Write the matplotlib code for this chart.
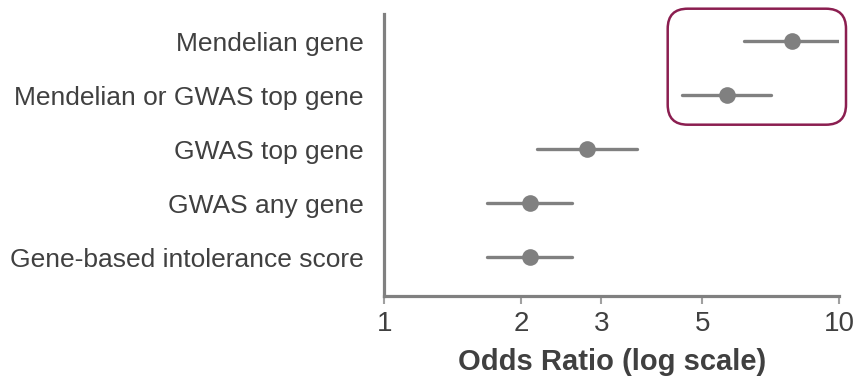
import matplotlib
matplotlib.use("Agg")
import matplotlib.pyplot as plt
from matplotlib.patches import FancyBboxPatch
from matplotlib.ticker import FixedLocator, NullLocator

# Data
labels = ["Mendelian gene", "Mendelian or GWAS top gene", "GWAS top gene",
          "GWAS any gene", "Gene-based intolerance score"]
odds = [7.87, 5.66, 2.79, 2.09, 2.09]
ci_low = [6.18, 4.51, 2.17, 1.68, 1.68]
ci_high = [10.0, 7.08, 3.59, 2.59, 2.59]
xticks = [1, 2, 3, 5, 10]

plt.rcParams['font.family'] = ['Liberation Sans', 'DejaVu Sans']

fig = plt.figure(figsize=(8.6, 3.78), dpi=100)
ax = fig.add_axes([0.4469, 0.2169, 0.5287, 0.746])

grey = "#808080"
txt = "#404040"
ypos = list(range(len(labels)))

ax.hlines(ypos, ci_low, ci_high, color=grey, linewidth=2.4, capstyle="round")
ax.plot(odds, ypos, "o", color=grey, markersize=12, markeredgewidth=0)

ax.set_xscale("log")
ax.set_xlim(1, 10)
ax.set_ylim(4.72, -0.5)
ax.xaxis.set_major_locator(FixedLocator(xticks))
ax.xaxis.set_minor_locator(NullLocator())
ax.set_xticklabels([str(t) for t in xticks], fontsize=20, color=txt)
ax.set_yticks(ypos)
ax.set_yticklabels(labels, fontsize=19, color=txt)
ax.tick_params(axis="y", length=0, pad=15)
ax.tick_params(axis="x", length=6, width=1.5, color="#a0a0a0", pad=5)

for s in ["top", "right"]:
    ax.spines[s].set_visible(False)
for s in ["left", "bottom"]:
    ax.spines[s].set_color(grey)
    ax.spines[s].set_linewidth(2.3)

ax.set_xlabel("Odds Ratio (log scale)", fontsize=21, fontweight="bold", color=txt, labelpad=8)

# highlight box around the top two rows
box = FancyBboxPatch((6.677, 2.533), 1.783, 1.16,
                     boxstyle="round,pad=0,rounding_size=0.2",
                     transform=fig.dpi_scale_trans, fill=False,
                     edgecolor="#8B1E50", linewidth=1.8)
fig.patches.append(box)

fig.savefig("out.png", dpi=100)
